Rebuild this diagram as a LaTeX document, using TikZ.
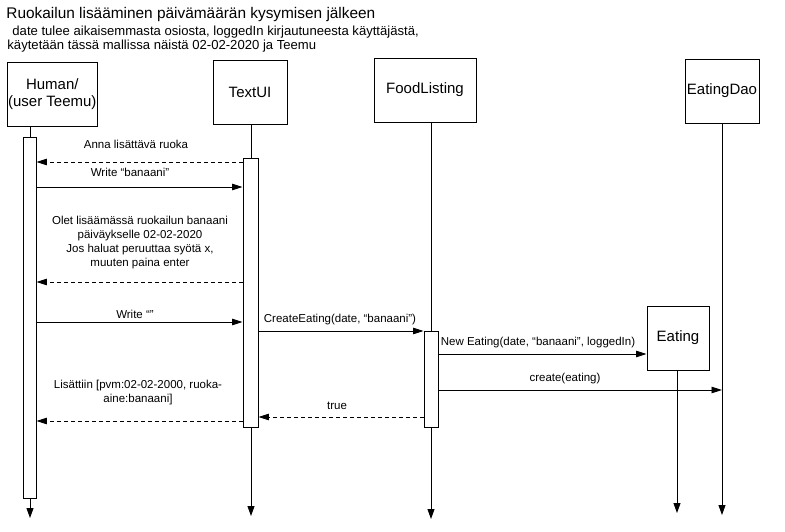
\documentclass[tikz,border=0pt]{standalone}
\usepackage{fontspec}
\setmainfont{Liberation Sans}
\usetikzlibrary{arrows.meta}
\begin{document}
\begin{tikzpicture}[x=1pt,y=-1pt,line width=0.9pt,
  obj/.style={draw, fill=white, minimum height=64pt, inner sep=0pt, align=center,
              font=\fontsize{15}{17}\selectfont},
  act/.style={draw, fill=white, inner sep=0pt},
  life/.style={-{Triangle[length=10pt,width=7pt]}},
  msg/.style={-{Triangle[length=10.5pt,width=6.5pt]}},
  ret/.style={msg, dash pattern=on 4pt off 3pt},
  lbl/.style={font=\fontsize{11.5}{14}\selectfont, inner sep=0pt, align=center}]
\useasboundingbox (0,0) rectangle (785,532);

% titles
\node[anchor=base west, inner sep=0pt, font=\fontsize{15.4}{18}\selectfont] (title) at (6,18.5)
  {Ruokailun lisääminen päivämäärän kysymisen jälkeen};
\node[anchor=base west, inner sep=0pt, font=\fontsize{13.1}{15}\selectfont] (sub1) at (12,35.5)
  {date tulee aikaisemmasta osiosta, loggedIn kirjautuneesta käyttäjästä,};
\node[anchor=base west, inner sep=0pt, font=\fontsize{13.1}{15}\selectfont] (sub2) at (7,50)
  {käytetään tässä mallissa näistä 02-02-2020 ja Teemu};

% objects
\node[obj, minimum width=90.5pt] (human) at (52.3,94) {Human/\\(user Teemu)};
\node[obj, minimum width=74pt] (textui) at (250,92) {TextUI};
\node[obj, minimum width=102pt] (food) at (425,90) {FoodListing};
\node[obj, minimum width=74pt] (dao) at (722,91) {EatingDao};

% lifeline ends
\coordinate (hEnd) at (30,518);
\coordinate (tEnd) at (251,516);
\coordinate (fEnd) at (431,519);
\coordinate (dEnd) at (722,515);
\coordinate (eEnd) at (677,513);

\draw[life] (human.south -| hEnd) -- (hEnd);
\draw[life] (textui.south -| tEnd) -- (tEnd);
\draw[life] (food.south -| fEnd) -- (fEnd);
\draw[life] (dao.south -| dEnd) -- (dEnd);

% Eating object (created)
\node[obj, minimum width=62pt] (eating) at (678,338) {Eating};
\draw[life] (eating.south -| eEnd) -- (eEnd);

% activations
\node[act, minimum width=13pt, minimum height=361pt] (actH) at (29.5,317.5) {};
\node[act, minimum width=15pt, minimum height=269pt] (actT) at (250.5,292.5) {};
\node[act, minimum width=14pt, minimum height=96pt] (actF) at (431,379) {};

% messages
\draw[ret] (actT.west |- 0,162) -- (actH.east |- 0,162);
\node[lbl, anchor=base] (m1) at (136,149) {Anna lisättävä ruoka};

\draw[msg] (actH.east |- 0,187) -- (actT.west |- 0,187);
\node[lbl, anchor=base] (m2) at (130,177) {Write “banaani”};

\draw[ret] (actT.west |- 0,282) -- (actH.east |- 0,282);
\node[lbl] (m3) at (140,243) {Olet lisäämässä ruokailun banaani\\päiväykselle 02-02-2020\\Jos haluat peruuttaa syötä x,\\muuten paina enter};

\draw[msg] (actH.east |- 0,322) -- (actT.west |- 0,322);
\node[lbl, anchor=base] (m4) at (135,318) {Write “”};

\draw[msg] (actT.east |- 0,331) -- (actF.west |- 0,331);
\node[lbl, anchor=base] (m5) at (340,322.5) {CreateEating(date, “banaani”)};

\draw[msg] (actF.east |- 0,354) -- (eating.west |- 0,354);
\node[lbl, anchor=base] (m6) at (538,345) {New Eating(date, “banaani”, loggedIn)};

\draw[msg] (actF.east |- 0,390) -- (dEnd |- 0,390);
\node[lbl, anchor=base] (m7) at (565,381.5) {create(eating)};

\draw[ret] (actF.west |- 0,417) -- (actT.east |- 0,417);
\node[lbl, anchor=base] (m8) at (337,409) {true};

\draw[ret] (actT.west |- 0,421) -- (actH.east |- 0,421);
\node[lbl] (m9) at (138,393) {Lisättiin [pvm:02-02-2000, ruoka-\\aine:banaani]};
\end{tikzpicture}
\end{document}
